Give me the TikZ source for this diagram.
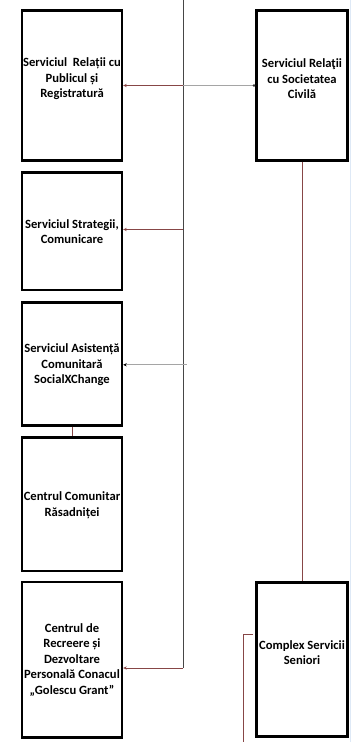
\documentclass[tikz,border=0pt]{standalone}
\usepackage{fontspec}
\setmainfont{Carlito}
\usetikzlibrary{arrows.meta}
\definecolor{lnred}{RGB}{135,70,70}
\definecolor{lngrey}{RGB}{165,165,165}
\definecolor{vlinec}{RGB}{70,70,70}
\definecolor{edgeblue}{RGB}{222,233,246}
\begin{document}
\begin{tikzpicture}[x=1pt,y=-1pt,
  box/.style={draw=black, line width=2.4pt, rectangle, inner sep=0pt},
  lbox/.style={box, minimum width=100pt},
  rbox/.style={box, minimum width=91pt},
  txt/.style={font=\fontsize{12.6}{15.5}\selectfont\bfseries, align=center, inner sep=0pt},
  redline/.style={lnred, line width=0.8pt},
  greyline/.style={lngrey, line width=0.8pt},
  tip/.style={-{Stealth[length=3.5pt,width=3.2pt]}}]
\useasboundingbox (0,0) rectangle (351,742);
\fill[edgeblue] (349.6,0) rectangle (351,742);
% left boxes
\node[lbox, minimum height=150pt] (lb1) at (72,85.5) {};
\node[lbox, minimum height=117.5pt] (lb2) at (72,231.3) {};
\node[lbox, minimum height=123pt] (lb3) at (72,363.8) {};
\node[lbox, minimum height=133.4pt] (lb4) at (72,504) {};
\node[lbox, minimum height=155.3pt] (lb5) at (72,659.7) {};
% right boxes
\node[rbox, minimum height=150pt] (rb1) at (302,85.5) {};
\node[rbox, minimum height=154.2pt] (rb2) at (302,659.4) {};
% texts
\node[txt] (t1) at (72,79) {Serviciul\ \ Relații cu\\Publicul și\\Registratură};
\node[txt] (t2) at (72,231.5) {Serviciul Strategii,\\Comunicare};
\node[txt] (t3) at (72,365) {Serviciul Asistență\\Comunitară\\SocialXChange};
\node[txt] (t4) at (72,505) {Centrul Comunitar\\Răsadniței};
\node[txt] (t5) at (72,660) {Centrul de\\Recreere și\\Dezvoltare\\Personală Conacul\\„Golescu Grant”};
\node[txt] (t6) at (302,79) {Serviciul Relaţii\\cu Societatea\\Civilă};
\node[txt] (t7) at (302,652.5) {Complex Servicii\\Seniori};
% vertical trunk
\coordinate (vtop) at (183,0);
\coordinate (vbot) at (183,668);
\draw[vlinec, line width=0.9pt] (vtop) -- (vbot);
% arrows
\coordinate (v1) at (183,85.5);
\coordinate (v2) at (183,229.5);
\coordinate (v3) at (187,364.8);
\draw[greyline, {Circle[length=2.6pt,color=black!80]}-] (rb1.west) -- (v1);
\draw[redline, tip] (v1) -- (lb1.east);
\draw[redline, tip] (v2) -- (v2 -| lb2.east);
\draw[greyline, tip, {Stealth[length=3.5pt,width=3.2pt,color=black]}-] (v3 -| lb3.east) -- (v3);
\draw[redline, tip] (vbot) -- (vbot -| lb5.east);
% other connectors
\draw[redline] (lb3.south) -- (lb4.north);
\draw[redline] (rb1.south) -- (rb2.north);
\coordinate (b1) at (253,634);
\coordinate (b2) at (243,634);
\coordinate (b3) at (243,742);
\draw[redline] (b1) -- (b2) -- (b3);
\end{tikzpicture}
\end{document}
